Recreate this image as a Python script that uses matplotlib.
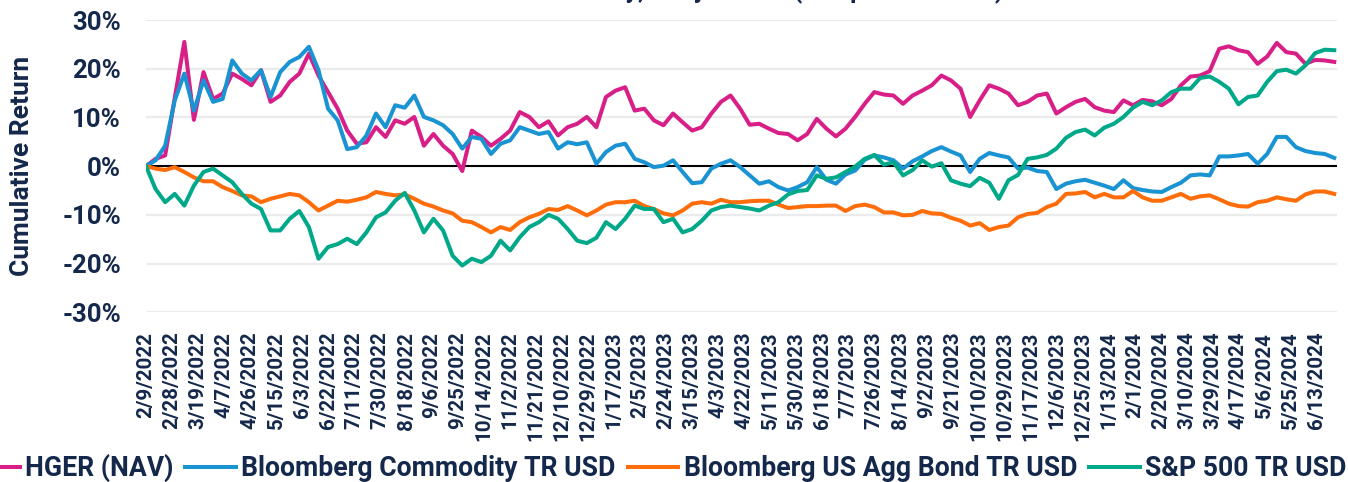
import numpy as np
import pandas as pd
import matplotlib
matplotlib.use("Agg")
import matplotlib.pyplot as plt

# weekly samples (cumulative return, %)
hger = [0, 1.5, 2.2, 14.0, 25.5, 9.5, 19.3, 13.8, 14.9, 19.0, 17.9, 16.6, 19.7, 13.2, 14.5, 17.3, 19.0, 23.1, 18.6, 15.2,
        11.8, 7.3, 4.6, 4.9, 8.0, 6.0, 9.4, 8.7, 10.1, 4.2, 6.6, 4.2, 2.5, -1.0, 7.3, 6.0, 4.2, 5.6, 7.3, 11.1,
        10.1, 8.0, 9.2, 6.3, 8.0, 8.7, 10.1, 8.0, 14.2, 15.5, 16.2, 11.4, 11.8, 9.4, 8.4, 10.8, 9.0, 7.3, 8.0, 10.8,
        13.2, 14.5, 11.8, 8.5, 8.7, 7.7, 6.8, 6.6, 5.3, 6.6, 9.7, 7.7, 6.1, 7.7, 10.1, 12.8, 15.2, 14.7, 14.5, 12.8,
        14.5, 15.5, 16.6, 18.6, 17.6, 15.9, 10.1, 13.5, 16.6, 15.9, 14.9, 12.5, 13.2, 14.5, 14.9, 10.8, 12.1, 13.2, 13.8, 12.1,
        11.4, 11.1, 13.5, 12.5, 13.6, 13.3, 12.5, 13.8, 16.6, 18.4, 18.6, 19.5, 24.1, 24.6, 23.8, 23.4, 21.0, 22.5, 25.3, 23.4,
        23.1, 21.0, 21.8, 21.7, 21.4]
commodity = [0, 1.2, 4.2, 13.5, 19.0, 11.4, 17.6, 13.2, 13.8, 21.7, 19.0, 17.6, 19.7, 14.2, 19.3, 21.4, 22.4, 24.5, 19.7, 11.8,
             9.4, 3.5, 3.9, 6.3, 10.8, 8.0, 12.5, 12.0, 14.5, 10.1, 9.4, 8.4, 6.6, 3.6, 6.0, 5.6, 2.5, 4.6, 5.3, 8.0,
             7.3, 6.6, 7.0, 3.6, 4.9, 4.5, 4.9, 0.5, 2.9, 4.2, 4.6, 1.5, 0.8, -0.2, 0.1, 1.2, -1.2, -3.5, -3.3, -0.5,
             0.5, 1.2, -0.2, -1.9, -3.6, -3.1, -4.3, -5.0, -4.3, -3.3, -0.2, -2.8, -3.6, -1.7, -0.9, 1.3, 2.2, 1.8, 1.2, -0.5,
             1.0, 2.0, 3.1, 3.9, 3.0, 2.2, -1.2, 1.5, 2.7, 2.2, 1.8, -0.5, -0.3, -1.0, -1.2, -4.7, -3.6, -3.1, -2.8, -3.4,
             -4.0, -4.7, -2.9, -4.5, -4.9, -5.2, -5.3, -4.3, -3.4, -1.9, -1.7, -1.9, 2.0, 2.0, 2.2, 2.5, 0.5, 2.5, 6.0, 6.0,
             3.9, 3.1, 2.7, 2.5, 1.7]
agg_bond = [0, -0.5, -0.8, -0.2, -1.2, -2.3, -3.1, -3.1, -4.3, -5.1, -6.0, -6.2, -7.4, -6.7, -6.2, -5.7, -6.0, -7.4, -9.1, -8.1,
            -7.1, -7.3, -6.9, -6.4, -5.3, -5.7, -6.0, -5.8, -6.7, -7.7, -8.3, -9.1, -9.7, -11.2, -11.5, -12.5, -13.6, -12.5, -13.1, -11.5,
            -10.5, -9.8, -8.8, -9.0, -8.2, -9.1, -10.1, -9.1, -7.9, -7.4, -7.4, -7.1, -8.2, -8.8, -9.7, -10.1, -9.1, -7.7, -7.4, -7.7,
            -6.9, -7.4, -7.4, -7.2, -7.1, -7.1, -7.9, -8.6, -8.4, -8.2, -8.2, -8.1, -8.1, -9.2, -8.2, -7.9, -8.4, -9.5, -9.5, -10.1,
            -10.0, -9.2, -9.7, -9.8, -10.6, -11.2, -12.2, -11.7, -13.1, -12.5, -12.2, -10.5, -9.8, -9.6, -8.4, -7.7, -5.7, -5.6, -5.3, -6.4,
            -5.7, -6.4, -6.4, -5.1, -6.4, -7.1, -7.1, -6.4, -5.7, -6.7, -6.2, -6.0, -6.8, -7.7, -8.2, -8.3, -7.4, -7.1, -6.4, -6.8,
            -7.1, -5.8, -5.2, -5.2, -5.7]
sp500 = [0, -4.7, -7.4, -5.7, -8.1, -4.0, -1.2, -0.5, -1.9, -3.3, -5.7, -7.7, -8.8, -13.2, -13.2, -10.8, -9.2, -12.5, -19.0, -16.6,
         -16.0, -14.9, -16.0, -13.6, -10.5, -9.5, -7.1, -5.5, -9.1, -13.6, -10.8, -13.2, -18.4, -20.4, -19.0, -19.7, -18.4, -15.3, -17.3, -14.6,
         -12.5, -11.5, -10.0, -10.8, -12.9, -15.3, -15.8, -14.7, -11.5, -12.9, -10.8, -8.1, -8.8, -8.8, -11.5, -10.8, -13.6, -12.9, -11.2, -9.1,
         -8.4, -8.1, -8.4, -8.7, -9.1, -8.1, -7.4, -5.8, -5.1, -4.9, -1.9, -2.6, -2.3, -1.2, -0.1, 1.5, 2.3, 0.3, 0.8, -1.9,
         -0.8, 1.2, -0.1, 0.6, -2.9, -3.6, -4.1, -2.4, -3.4, -6.7, -2.9, -1.8, 1.5, 1.8, 2.3, 3.6, 5.8, 7.0, 7.5, 6.3,
         7.9, 8.7, 10.1, 12.0, 13.2, 12.5, 13.5, 15.2, 15.9, 15.9, 18.1, 18.4, 17.3, 15.9, 12.7, 14.2, 14.5, 17.3, 19.5, 19.8,
         19.0, 20.7, 23.2, 23.9, 23.8]

names = ["HGER (NAV)", "Bloomberg Commodity TR USD", "Bloomberg US Agg Bond TR USD", "S&P 500 TR USD"]
colors = ["#D81F87", "#1A93D3", "#FF6D0A", "#00A88A"]

dates = pd.date_range("2022-02-09", periods=len(hger), freq="7D")
tick_dates = pd.date_range("2022-02-09", "2024-06-13", freq="19D")
tick_labels = [f"{d.month}/{d.day}/{d.year}" for d in tick_dates]

navy = "#14284B"
plt.rcParams["font.family"] = ["Roboto", "DejaVu Sans"]

fig = plt.figure(figsize=(13.48, 4.82), dpi=100)
ax = fig.add_axes([146 / 1348, 1 - 312.3 / 482, 1191 / 1348, 292.3 / 482])

for v in range(-30, 31, 10):
    if v != 0:
        ax.axhline(v, color="#EBEBEB", lw=1.6, zorder=0)
ax.axhline(0, color="black", lw=1.5, zorder=1)

series = [hger, commodity, agg_bond, sp500]
for vals, name, c in zip(series, names, colors):
    ax.plot(dates, vals, color=c, lw=2.9, label=name, zorder=2)

ax.set_ylim(-30, 30)
ax.set_xlim(pd.Timestamp("2022-02-09"), pd.Timestamp("2022-02-09") + pd.Timedelta(days=870))
ax.set_yticks(range(-30, 31, 10))
ax.set_yticklabels([f"{v}%" for v in range(-30, 31, 10)], fontsize=18.5, fontweight="bold", color=navy)
ax.set_xticks(tick_dates)
ax.set_xticklabels(tick_labels, rotation=90, fontsize=14.8, fontweight="bold", color=navy)
ax.tick_params(axis="y", length=0, pad=18)
ax.tick_params(axis="x", length=0, pad=14)
for s in ax.spines.values():
    s.set_visible(False)

ax.set_ylabel("Cumulative Return", fontsize=19, fontweight="bold", color=navy, labelpad=20)

fig.text(1004 / 1348, 1.003, "Cumulative Performance Summary, Daily Return (Inception to Date)",
         ha="right", va="baseline", fontsize=18, fontweight="bold", color=navy)

fig.legend(loc="lower center", bbox_to_anchor=(0.488, -0.05), ncol=4, frameon=False,
           prop={"size": 19.2, "weight": "bold"}, labelcolor=navy,
           handlelength=1.9, handletextpad=0.2, columnspacing=0.45)

fig.savefig("out.png", dpi=100)
